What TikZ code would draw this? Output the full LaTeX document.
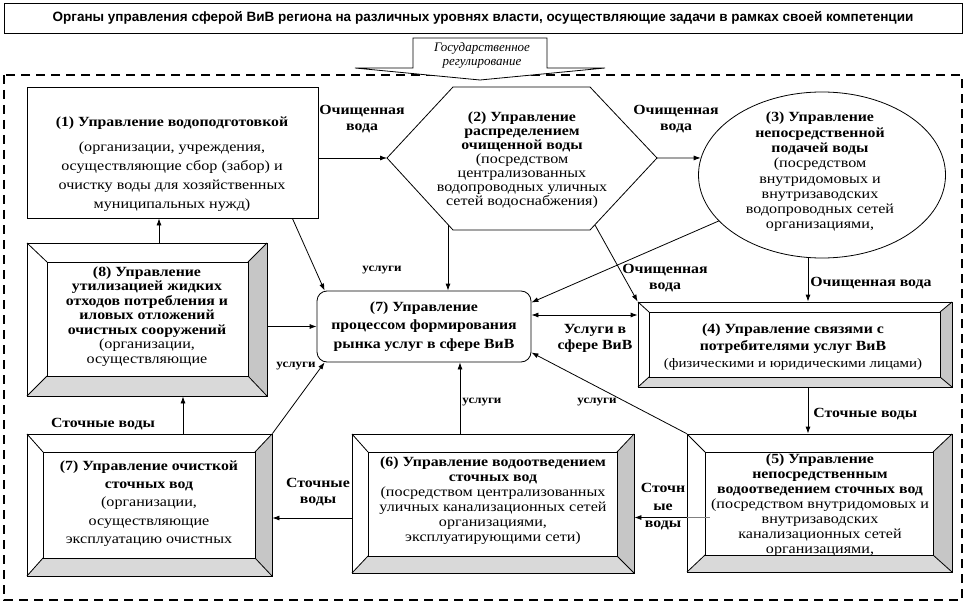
\documentclass[tikz,border=0pt]{standalone}
\usepackage{fontspec}
\setmainfont[UprightFeatures={FakeStretch=1.15},BoldFeatures={FakeStretch=1.13}]{Liberation Serif}
\newfontfamily\titlefont{Liberation Sans}
\usetikzlibrary{arrows.meta,shapes.geometric}
\colorlet{bevright}{gray!45}
\colorlet{bevbottom}{gray!30}
\tikzset{
  arr/.style={-{Latex[length=7pt,width=5pt]}},
  darr/.style={{Latex[length=7pt,width=5pt]}-{Latex[length=7pt,width=5pt]}},
  lbl/.style={font=\bfseries\fontsize{14}{16}\selectfont,align=center,inner sep=0pt},
  usl/.style={font=\bfseries\fontsize{11.5}{13}\selectfont,inner sep=0pt},
  txt/.style={font=\fontsize{14}{#1}\selectfont,align=center,inner sep=0pt},
}
\begin{document}
\begin{tikzpicture}[x=1pt,y=-1pt,line width=0.8pt]
                \useasboundingbox (0,0) rectangle (966,604);
                %% title and frame
                \node[draw,minimum width=958pt,minimum height=30pt,inner sep=0pt,
                      font=\titlefont\bfseries\fontsize{13.5}{15}\selectfont] (organy) at (483,18)
                      {Органы управления сферой ВиВ региона на различных уровнях власти, осуществляющие задачи в рамках своей компетенции};
                \draw[dash pattern=on 9pt off 6pt,line width=1.6pt] (4,75) rectangle (962,600);
                \draw[fill=white] (413,38) -- (547,38) -- (547,68) -- (605,68) -- (480,80)
                      -- (355,68) -- (413,68) -- cycle;
                \node[align=center,inner sep=0pt,font=\itshape\fontsize{13}{14}\selectfont] (gosreg) at (482,55)
                      {Государственное\\регулирование};
                %% bevelled boxes
                \foreach \nm/\xa/\ya/\xb/\yb/\xc/\yc/\xd/\yd in {util8/27/243/267/396/47/262/248/376,
                        svyaz4/638/302/952/387/649/312/940/377,
                        otvod5/687/434/952/572/705/452/933/555,
                        otvod6/352/434/634/573/368/452/617/556,
                        ochist7/27/434/272/576/43/452/255/558} {
                    \fill[bevright] (\xb,\ya) -- (\xb,\yb) -- (\xd,\yd) -- (\xd,\yc) -- cycle;
                    \fill[bevbottom] (\xa,\yb) -- (\xb,\yb) -- (\xd,\yd) -- (\xc,\yd) -- cycle;
                    \draw (\xc,\yc) rectangle (\xd,\yd);
                    \draw (\xa,\ya) -- (\xc,\yc) (\xb,\ya) -- (\xd,\yc)
                          (\xa,\yb) -- (\xc,\yd) (\xb,\yb) -- (\xd,\yd);
                    \node[draw,inner sep=0pt,minimum width={(\xb-\xa)*1pt},minimum height={(\yb-\ya)*1pt}]
                          (\nm) at ({(\xa+\xb)/2},{(\ya+\yb)/2}) {};
                }
                %% (1) water treatment
                \node[draw,inner sep=0pt,minimum width=291pt,minimum height=131pt] (upr1) at (172.5,152.5) {};
                \node[txt=19] (upr1txt) at (172,164) {\textbf{(1) Управление водоподготовкой}\\[6pt]
                      (организации, учреждения,\\осуществляющие сбор (забор) и\\
                      очистку воды для хозяйственных\\муниципальных нужд)};
                %% (2) distribution, hexagon
                \coordinate (h2w) at (387,158);
                \coordinate (h2nw) at (453,87);
                \coordinate (h2ne) at (590,87);
                \coordinate (h2e) at (657,158);
                \coordinate (h2se) at (590,230);
                \coordinate (h2sw) at (453,230);
                \draw (h2w) -- (h2nw) -- (h2ne) -- (h2e) -- (h2se) -- (h2sw) -- cycle;
                \node[txt=14] (upr2txt) at (522,160) {\textbf{(2) Управление}\\\textbf{распределением}\\
                      \textbf{очищенной воды}\\(посредством\\централизованных\\водопроводных уличных\\сетей водоснабжения)};
                %% (3) supply, ellipse
                \node[draw,ellipse,inner sep=0pt,minimum width=247pt,minimum height=166pt] (upr3) at (822,175) {};
                \node[txt=15.3] (upr3txt) at (820,172) {\textbf{(3) Управление}\\\textbf{непосредственной}\\
                      \textbf{подачей воды}\\(посредством\\внутридомовых и\\внутризаводских\\водопроводных сетей\\организациями,};
                %% (7) market
                \node[draw,rounded corners=10pt,minimum width=214pt,minimum height=71pt,
                      font=\bfseries\fontsize{14}{18.5}\selectfont,align=center,inner sep=0pt] (rynok7) at (424,326.5)
                      {(7) Управление\\процессом формирования\\рынка услуг в сфере ВиВ};
                %% texts in bevelled boxes
                \node[txt=14.5] (util8txt) at (147,316.5) {\textbf{(8) Управление}\\\textbf{утилизацией жидких}\\
                      \textbf{отходов потребления и}\\\textbf{иловых отложений}\\\textbf{очистных сооружений}\\
                      (организации,\\осуществляющие};
                \node[txt=17] (svyaz4txt) at (793,347) {\textbf{(4) Управление связями с}\\\textbf{потребителями услуг ВиВ}\\
                      {\fontsize{13}{17}\selectfont (физическими и юридическими лицами)}};
                \begin{scope}
                    \clip (705,452) rectangle (933,555);
                    \node[txt=15] (otvod5txt) at (820,505) {\textbf{(5) Управление}\\\textbf{непосредственным}\\
                          \textbf{водоотведением сточных вод}\\(посредством внутридомовых и\\
                          внутризаводских\\канализационных сетей\\организациями,};
                \end{scope}
                \node[txt=15] (otvod6txt) at (493,500.5) {\textbf{(6) Управление водоотведением}\\\textbf{сточных вод}\\
                      (посредством централизованных\\уличных канализационных сетей\\
                      организациями,\\эксплуатирующими сети)};
                \node[txt=18.3] (ochist7txt) at (149,503.5) {\textbf{(7) Управление очисткой}\\\textbf{сточных вод}\\
                      (организации,\\осуществляющие\\эксплуатацию очистных};
                %% water flows
                \draw[arr] (upr1.east |- h2w) -- (h2w);
                \draw[arr] (h2e) -- (upr3.172);
                \coordinate (a8) at ([xshift=12pt]util8.north);
                \draw[arr] (a8) -- (a8 |- upr1.south);
                \coordinate (a3) at ([xshift=-14pt]upr3.south);
                \draw[arr] (a3) -- (a3 |- svyaz4.north);
                \coordinate (a4) at ([xshift=13pt]svyaz4.south);
                \draw[arr] (a4) -- (a4 |- otvod5.north);
                \coordinate (a5) at ([yshift=-14.5pt]otvod5.west);
                \draw[gray] (a5) -- ++(23,0);
                \draw[arr] (a5) -- (otvod6.east |- a5);
                \coordinate (a6) at ([yshift=-14.5pt]otvod6.west);
                \draw[arr] (a6) -- (ochist7.east |- a6);
                \coordinate (a7) at ([xshift=33.5pt]ochist7.north);
                \draw[arr] (a7) -- (a7 |- util8.south);
                \draw[arr] ([xshift=5pt,yshift=5pt]h2se) -- (svyaz4.north west);
                %% services
                \draw[arr] ([xshift=-26pt]upr1.south east) -- ([xshift=8pt]rynok7.north west);
                \coordinate (a2) at ([xshift=-5pt,yshift=5pt]h2sw);
                \draw[arr] (a2) -- (a2 |- rynok7.north);
                \draw[arr] (upr3.204) -- ([yshift=24pt]rynok7.east);
                \draw[arr] (util8.east |- rynok7.west) -- (rynok7.west);
                \coordinate (a9) at ([yshift=11.5pt]rynok7.east);
                \draw[darr] (a9) -- (svyaz4.west |- a9);
                \draw[arr] (ochist7.north east) -- ([xshift=8pt]rynok7.south west);
                \coordinate (a10) at ([xshift=36pt]rynok7.south);
                \draw[arr] (a10 |- otvod6.north) -- (a10);
                \draw[arr] (otvod5.north west) -- ([yshift=-26pt]rynok7.east);
                %% labels
                \node[lbl] (l12) at (362,119) {Очищенная\\вода};
                \node[lbl] (l23) at (676,119) {Очищенная\\вода};
                \node[lbl] (l24) at (665,278) {Очищенная\\вода};
                \node[lbl,anchor=west] (l34) at (810,283) {Очищенная вода};
                \node[lbl,anchor=west] (l45) at (813,414) {Сточные воды};
                \node[lbl] (l74) at (595,338) {Услуги в\\сфере ВиВ};
                \node[lbl,font=\bfseries\fontsize{14}{17.5}\selectfont] (l56) at (663,507) {Сточн\\ые\\воды};
                \node[lbl] (l67) at (318,492) {Сточные\\воды};
                \node[lbl] (l78) at (103,424) {Сточные воды};
                \node[usl] (u1) at (382,270) {услуги};
                \node[usl] (u2) at (296,366) {услуги};
                \node[usl,anchor=west] (u3) at (462,402) {услуги};
                \node[usl] (u4) at (597,402) {услуги};
            \end{tikzpicture}
\end{document}
